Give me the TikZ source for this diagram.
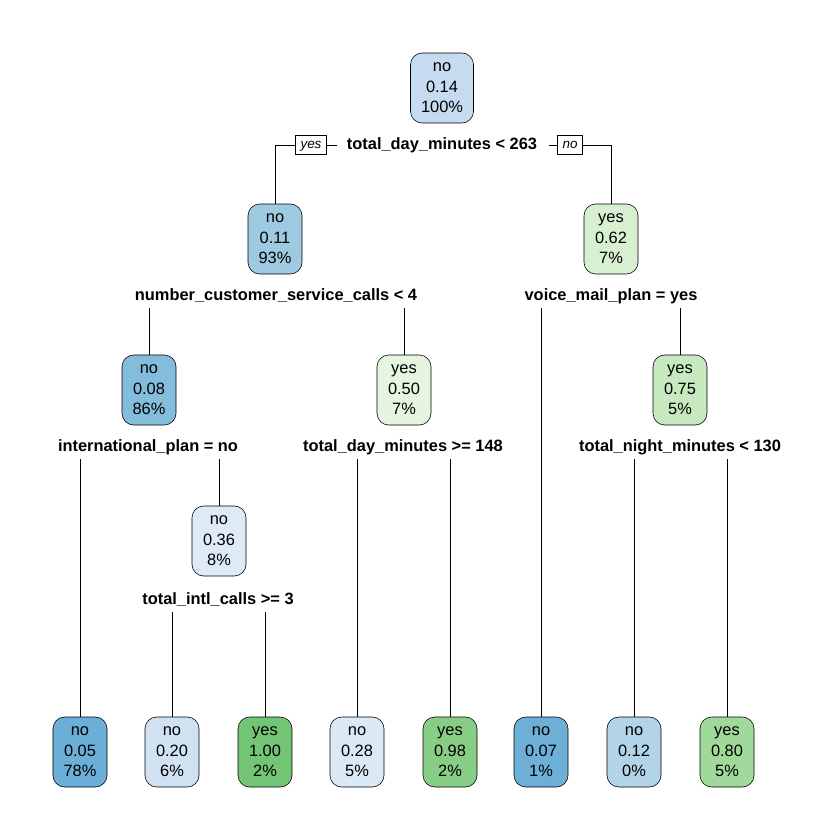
\documentclass[tikz,border=0pt]{standalone}
\usepackage{fontspec}
\setmainfont{Liberation Sans}
\definecolor{c005}{HTML}{6BAED6}
\definecolor{c007}{HTML}{6DAFD7}
\definecolor{c008}{HTML}{84BCDB}
\definecolor{c011}{HTML}{9ECAE1}
\definecolor{c012}{HTML}{B2D3E8}
\definecolor{c014}{HTML}{C6DBEF}
\definecolor{c020}{HTML}{D0E2F2}
\definecolor{c028}{HTML}{DBE8F5}
\definecolor{c036}{HTML}{DEEBF7}
\definecolor{c050}{HTML}{E5F5E0}
\definecolor{c062}{HTML}{D8F0D2}
\definecolor{c075}{HTML}{C7E9C0}
\definecolor{c080}{HTML}{A1D99B}
\definecolor{c098}{HTML}{88CD86}
\definecolor{c100}{HTML}{74C476}
\begin{document}
\begin{tikzpicture}[x=0.03cm,y=-0.03cm,
  tnode/.style={draw=black, line width=0.5pt, rounded corners=10pt,
    minimum width=1.62cm, minimum height=2.1cm, align=center, inner sep=0pt,
    font=\fontsize{14}{17.6}\selectfont},
  split/.style={font=\fontsize{14}{17}\selectfont\bfseries, inner sep=0pt,
    minimum height=0.72cm, text height=10pt, text depth=3pt},
  lbl/.style={draw=black, line width=0.5pt, font=\fontsize{11.5}{13}\selectfont\itshape,
    inner xsep=4.5pt, inner ysep=0pt, minimum height=0.56cm, text height=8.5pt, text depth=2.5pt},
  conn/.style={draw=black, line width=0.6pt}]
\useasboundingbox (0,0) rectangle (840,840);
% root
\node[tnode, fill=c014, minimum width=1.89cm] (n0) at (442,88) {no\\0.14\\100\%};
\node[split] (s0) at (442,145) {total\_day\_minutes < 263};
\node[lbl] (yes0) at (311,145) {yes};
\node[lbl] (no0) at (570,145) {no};
% level 1
\node[tnode, fill=c011] (n1) at (275,239) {no\\0.11\\93\%};
\node[tnode, fill=c062] (n2) at (611,239) {yes\\0.62\\7\%};
\node[split] (s1) at (276,296) {number\_customer\_service\_calls < 4};
\node[split] (s2) at (611,296) {voice\_mail\_plan = yes};
% level 2
\node[tnode, fill=c008] (n3) at (149,390) {no\\0.08\\86\%};
\node[tnode, fill=c050] (n4) at (404,390) {yes\\0.50\\7\%};
\node[tnode, fill=c075] (n5) at (680,390) {yes\\0.75\\5\%};
\node[split] (s3) at (148,447) {international\_plan = no};
\node[split] (s4) at (403,447) {total\_day\_minutes >= 148};
\node[split] (s5) at (680,447) {total\_night\_minutes < 130};
% level 3
\node[tnode, fill=c036] (n6) at (219,541) {no\\0.36\\8\%};
\node[split] (s6) at (218,600) {total\_intl\_calls >= 3};
% leaves
\node[tnode, fill=c005] (l1) at (80,752) {no\\0.05\\78\%};
\node[tnode, fill=c020] (l2) at (172,752) {no\\0.20\\6\%};
\node[tnode, fill=c100] (l3) at (265,752) {yes\\1.00\\2\%};
\node[tnode, fill=c028] (l4) at (357,752) {no\\0.28\\5\%};
\node[tnode, fill=c098] (l5) at (450,752) {yes\\0.98\\2\%};
\node[tnode, fill=c007] (l6) at (541,752) {no\\0.07\\1\%};
\node[tnode, fill=c012] (l7) at (634,752) {no\\0.12\\0\%};
\node[tnode, fill=c080] (l8) at (727,752) {yes\\0.80\\5\%};
% connectors
\coordinate (g0) at (337,145);
\coordinate (g1) at (549,145);
\draw[conn] (yes0.west) -| (n1.north);
\draw[conn] (yes0.east) -- (g0);
\draw[conn] (g1) -- (no0.west);
\draw[conn] (no0.east) -| (n2.north);
\draw[conn] (s1.south -| n3.north) -- (n3.north);
\draw[conn] (s1.south -| n4.north) -- (n4.north);
\draw[conn] (s2.south -| l6.north) -- (l6.north);
\draw[conn] (s2.south -| n5.north) -- (n5.north);
\draw[conn] (s3.south -| l1.north) -- (l1.north);
\draw[conn] (s3.south -| n6.north) -- (n6.north);
\draw[conn] (s4.south -| l4.north) -- (l4.north);
\draw[conn] (s4.south -| l5.north) -- (l5.north);
\draw[conn] (s5.south -| l7.north) -- (l7.north);
\draw[conn] (s5.south -| l8.north) -- (l8.north);
\draw[conn] (s6.south -| l2.north) -- (l2.north);
\draw[conn] (s6.south -| l3.north) -- (l3.north);
\end{tikzpicture}
\end{document}
